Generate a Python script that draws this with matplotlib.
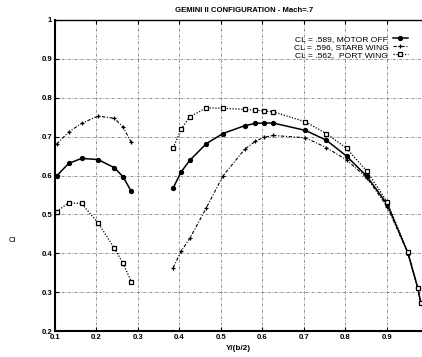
import matplotlib
matplotlib.use("Agg")
import matplotlib.pyplot as plt

plt.rcParams['font.family'] = ['Liberation Sans', 'DejaVu Sans']

# Inboard wing stations
x_in = [0.104, 0.133, 0.164, 0.204, 0.243, 0.264, 0.284]
motor_in = [0.599, 0.631, 0.644, 0.641, 0.620, 0.597, 0.559]
starb_in = [0.681, 0.712, 0.734, 0.753, 0.747, 0.725, 0.685]
port_in = [0.507, 0.530, 0.528, 0.478, 0.413, 0.374, 0.327]

# Outboard wing stations
x_out = [0.385, 0.404, 0.425, 0.465, 0.505, 0.557, 0.583, 0.603, 0.626,
         0.704, 0.754, 0.803, 0.852, 0.901, 0.951, 0.975, 0.982]
motor_out = [0.568, 0.609, 0.639, 0.682, 0.708, 0.728, 0.734, 0.735, 0.735,
             0.716, 0.691, 0.650, 0.598, 0.526, 0.401, 0.310, 0.272]
starb_out = [0.363, 0.405, 0.438, 0.517, 0.599, 0.667, 0.688, 0.698, 0.703,
             0.697, 0.672, 0.640, 0.594, 0.520, 0.400, 0.310, 0.272]
port_out = [0.671, 0.719, 0.751, 0.774, 0.773, 0.770, 0.768, 0.766, 0.764,
            0.738, 0.708, 0.670, 0.611, 0.532, 0.402, 0.310, 0.272]

labels = ["CL = .589, MOTOR OFF", "CL = .596, STARB WING", "CL = .562,  PORT WING"]
title = "GEMINI II CONFIGURATION - Mach=.7"
xticks = [0.1, 0.2, 0.3, 0.4, 0.5, 0.6, 0.7, 0.8, 0.9]
yticks = [0.2, 0.3, 0.4, 0.5, 0.6, 0.7, 0.8, 0.9, 1.0]
ytick_labels = ["0.2", "0.3", "0.4", "0.5", "0.6", "0.7", "0.8", "0.9", "1"]

fig = plt.figure(figsize=(4.22, 3.57), dpi=100)
ax = fig.add_axes([55 / 422, 1 - 331 / 357, 1 - 55 / 422, (331 - 20) / 357])

fs = 5.6
sty_motor = dict(color='black', linestyle='-', linewidth=1.1, marker='o', markersize=2.8)
sty_starb = dict(color='black', linestyle=(0, (3, 1.5, 1, 1.5)), linewidth=0.8, marker='+',
                 markersize=3.5, markeredgewidth=0.9)
sty_port = dict(color='black', linestyle=(0, (1, 1.3)), linewidth=0.9, marker='s', markersize=3.2,
                markerfacecolor='white', markeredgewidth=0.9)

l1, = ax.plot(x_in, motor_in, **sty_motor)
ax.plot(x_out, motor_out, **sty_motor)
l2, = ax.plot(x_in, starb_in, **sty_starb)
ax.plot(x_out, starb_out, **sty_starb)
l3, = ax.plot(x_in, port_in, **sty_port)
ax.plot(x_out, port_out, **sty_port)

ax.set_xlim(0.1, 0.985)
ax.set_ylim(0.2, 1.0)
ax.set_xticks(xticks)
ax.set_xticklabels([f"{v:.1f}" for v in xticks], fontweight='bold')
ax.set_yticks(yticks)
ax.set_yticklabels(ytick_labels, fontweight='bold')
ax.tick_params(labelsize=fs, direction='in', length=3, width=0.8, top=True, pad=2)
ax.grid(True, color='#666666', linestyle=(0, (4, 2, 1, 2)), linewidth=0.5)

ax.spines['right'].set_visible(False)
ax.spines['left'].set_linewidth(1.5)
ax.spines['bottom'].set_linewidth(1.5)
ax.spines['top'].set_linewidth(1.0)

leg = ax.legend([l1, l2, l3], labels, loc='upper right', bbox_to_anchor=(412 / 422, 1 - 31 / 357),
                bbox_transform=fig.transFigure, markerfirst=False, frameon=False, fontsize=fs + 0.5,
                handlelength=1.8, labelspacing=0.02, borderpad=0, handletextpad=0.5)

fig.text(244 / 422, 1 - 10 / 357, title, ha='center', va='center', fontsize=fs, fontweight='bold')
fig.text(238 / 422, 1 - 349 / 357, "Y/(b/2)", ha='center', va='center', fontsize=fs + 0.3, fontweight='bold')
fig.text(12 / 422, 1 - 240 / 357, "Cl", ha='center', va='center', fontsize=fs)

fig.savefig("out.png", dpi=100)
